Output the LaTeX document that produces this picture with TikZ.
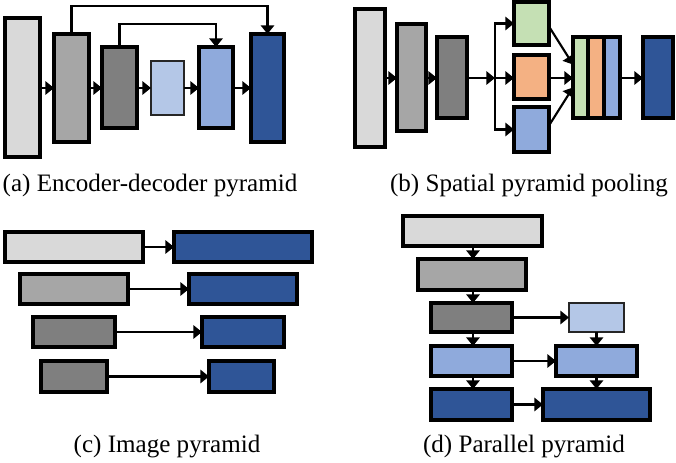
\documentclass[tikz,border=0pt]{standalone}
\usepackage{fontspec}
\setmainfont{Liberation Serif}
\usetikzlibrary{arrows.meta,calc}
\definecolor{cLG}{HTML}{D9D9D9}
\definecolor{cMG}{HTML}{A6A6A6}
\definecolor{cDG}{HTML}{7F7F7F}
\definecolor{cLB}{HTML}{B4C7E7}
\definecolor{cMB}{HTML}{8FAADC}
\definecolor{cDB}{HTML}{2F5597}
\definecolor{cGR}{HTML}{C5E0B4}
\definecolor{cOR}{HTML}{F4B183}
\tikzset{
  box/.style={draw=black,line width=2.4pt,inner sep=0pt,outer sep=0pt},
  thinbox/.style={draw=black!85,line width=1.3pt,inner sep=0pt,outer sep=0pt},
  arr/.style={draw=black,line width=1.6pt,-{Triangle[length=6.5pt,width=10pt]}},
  captxt/.style={font=\fontsize{18.8}{22}\selectfont,inner sep=0pt}
}
% \bx[style]{name}{x1}{y1}{x2}{y2}{color}
\newcommand\bx[7][box]{\node[#1,fill=#7,minimum width={(#5-#3)*0.75pt},minimum height={(#6-#4)*0.75pt}] (#2) at ({(#3+#5)/2},{(#4+#6)/2}) {};}
\begin{document}
\begin{tikzpicture}[x=0.75pt,y=-0.75pt]
\useasboundingbox (0,0) rectangle (676,463);
% (a)
\bx{a1}{5}{18}{40}{157}{cLG}
\bx{a2}{54}{34}{89}{142}{cMG}
\bx{a3}{102}{47}{137}{128}{cDG}
\bx[thinbox]{a4}{151}{61}{184}{115}{cLB}
\bx{a5}{199}{47}{233}{128}{cMB}
\bx{a6}{251}{34}{284}{142}{cDB}
\draw[arr] (a1.east |- 0,88) -- (a2.west |- 0,88);
\draw[arr] (a2.east |- 0,88) -- (a3.west |- 0,88);
\draw[arr] (a3.east |- 0,88) -- (a4.west |- 0,88);
\draw[arr] (a4.east |- 0,88) -- (a5.west |- 0,88);
\draw[arr] (a5.east |- 0,88) -- (a6.west |- 0,88);
\draw[arr] (a2.north) -- ++(0,-28) -| (a6.north);
\draw[arr] (a3.north) -- ++(0,-23) -| (a5.north);
\node[captxt] (capa) at (150,186) {(a) Encoder-decoder pyramid};
% (b)
\bx{b1}{355}{9}{385}{147}{cLG}
\bx{b2}{397}{24}{426}{131}{cMG}
\bx{b3}{437}{37}{467}{118}{cDG}
\bx{bg}{514}{2}{549}{45}{cGR}
\bx{bo}{514}{55}{549}{99}{cOR}
\bx{bb}{514}{107}{549}{152}{cMB}
\bx{cg}{573}{37}{588}{118}{cGR}
\bx{co}{588}{37}{604}{118}{cOR}
\bx{cb}{604}{37}{620}{118}{cMB}
\bx{bf}{643}{37}{673}{118}{cDB}
\coordinate (br) at (495,78);
\draw[arr] (b1.east |- 0,78) -- (b2.west |- 0,78);
\draw[arr] (b2.east |- 0,78) -- (b3.west |- 0,78);
\draw[arr] (b3.east |- br) -- (br);
\draw[arr] (br) |- (bg.west);
\draw[arr] (br) -- (bo.west |- br);
\draw[arr] (br) |- (bb.west);
\draw[arr] ($(bg.east)+(0,3)$) -- ($(cg.west)+(0,-13)$);
\draw[arr] (bo.east |- 0,78) -- (cg.west |- 0,78);
\draw[arr] ($(bb.east)+(0,-4)$) -- ($(cg.west)+(0,10)$);
\draw[arr] (cb.east |- 0,78) -- (bf.west |- 0,78);
\node[captxt] (capb) at (529,186) {(b) Spatial pyramid pooling};
% (c)
\bx{c1l}{5}{232}{143}{262}{cLG}
\bx{c1r}{174}{232}{312}{262}{cDB}
\bx{c2l}{20}{274}{128}{304}{cMG}
\bx{c2r}{189}{274}{297}{304}{cDB}
\bx{c3l}{33}{317}{115}{347}{cDG}
\bx{c3r}{202}{317}{284}{347}{cDB}
\bx{c4l}{41}{361}{107}{392}{cDG}
\bx{c4r}{209}{361}{274}{392}{cDB}
\draw[arr] (c1l.east) -- (c1r.west);
\draw[arr] (c2l.east) -- (c2r.west);
\draw[arr] (c3l.east) -- (c3r.west);
\draw[arr] (c4l.east) -- (c4r.west);
\node[captxt] (capc) at (167,447) {(c) Image pyramid};
% (d)
\bx{d1}{403}{216}{542}{246}{cLG}
\bx{d2}{418}{259}{526}{290}{cMG}
\bx{d3}{431}{303}{512}{332}{cDG}
\bx[thinbox]{d3r}{569}{303}{624}{332}{cLB}
\bx{d4}{431}{346}{512}{376}{cMB}
\bx{d4r}{556}{346}{637}{376}{cMB}
\bx{d5}{431}{389}{512}{420}{cDB}
\bx{d5r}{543}{389}{650}{420}{cDB}
\draw[arr] (473,246) coordinate (d1s) -- (d1s |- d2.north);
\draw[arr] (d1s |- d2.south) -- (d1s |- d3.north);
\draw[arr] (d1s |- d3.south) -- (d1s |- d4.north);
\draw[arr] (d1s |- d4.south) -- (d1s |- d5.north);
\draw[arr] (d3r.south) -- (d3r.south |- d4r.north);
\draw[arr] (d3r.south |- d4r.south) -- (d3r.south |- d5r.north);
\draw[arr] (d3.east) -- (d3r.west);
\draw[arr] (d4.east) -- (d4r.west);
\draw[arr] (d5.east) -- (d5r.west);
\node[captxt] (capd) at (524,447) {(d) Parallel pyramid};
\end{tikzpicture}
\end{document}
